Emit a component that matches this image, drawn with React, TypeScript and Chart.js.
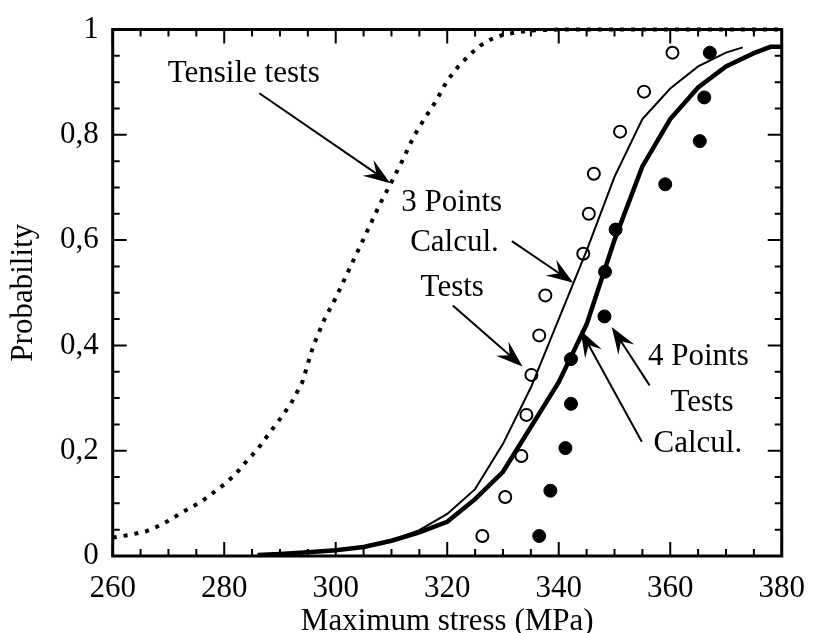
import React, { useEffect, useRef } from 'react';
import { Chart, registerables } from 'chart.js';

Chart.register(...registerables);

// ---- axis definitions ----
const X_MIN = 260;
const X_MAX = 380;
const X_MAJOR = 20;
const X_MINOR = 5;
const xTickValues = [260, 280, 300, 320, 340, 360, 380];
const yTickValues = [0, 0.2, 0.4, 0.6, 0.8, 1];
const yTickLabels = ['0', '0,2', '0,4', '0,6', '0,8', '1'];
const xTitle = 'Maximum stress (MPa)';
const yTitle = 'Probability';

// ---- Tensile tests (dotted curve) ----
const tensileX = [260, 263, 266, 268, 270, 272, 274, 276, 278, 280, 282, 284, 286, 288, 290, 292, 294, 296, 298, 300, 302, 304, 306, 308, 310, 312, 314, 316, 318, 320, 322, 324, 326, 328, 330, 332, 335, 340, 350, 360, 370, 380];
const tensileY = [0.035, 0.04, 0.047, 0.056, 0.067, 0.08, 0.092, 0.104, 0.12, 0.136, 0.155, 0.18, 0.203, 0.232, 0.26, 0.29, 0.33, 0.4, 0.45, 0.49, 0.535, 0.58, 0.625, 0.67, 0.71, 0.752, 0.797, 0.832, 0.864, 0.903, 0.93, 0.952, 0.97, 0.982, 0.99, 0.994, 0.998, 1, 1, 1, 1, 1];

// ---- 3 Points Calcul. (thin line) ----
const calc3X = [286, 290, 295, 300, 305, 310, 315, 320, 325, 330, 335, 340, 345, 350, 355, 360, 365, 370, 373];
const calc3Y = [0.002, 0.004, 0.007, 0.011, 0.018, 0.03, 0.049, 0.08, 0.127, 0.213, 0.32, 0.45, 0.58, 0.72, 0.83, 0.888, 0.93, 0.956, 0.966];

// ---- 4 Points Calcul. (thick line) ----
const calc4X = [286, 290, 295, 300, 305, 310, 315, 320, 325, 330, 335, 340, 345, 350, 355, 360, 365, 370, 375, 378, 380];
const calc4Y = [0.002, 0.004, 0.007, 0.011, 0.017, 0.029, 0.045, 0.065, 0.108, 0.16, 0.245, 0.33, 0.44, 0.6, 0.74, 0.83, 0.89, 0.93, 0.955, 0.967, 0.967];

// ---- 3 Points Tests (open circles) ----
const tests3X = [326.3, 330.4, 333.3, 334.2, 335.1, 336.5, 337.6, 344.4, 345.4, 346.3, 351.0, 355.3, 360.4];
const tests3Y = [0.038, 0.112, 0.19, 0.268, 0.344, 0.419, 0.495, 0.574, 0.65, 0.726, 0.806, 0.882, 0.956];

// ---- 4 Points Tests (filled circles) ----
const tests4X = [336.5, 338.5, 341.2, 342.2, 342.2, 348.2, 348.3, 350.2, 359.1, 365.3, 366.1, 367.1];
const tests4Y = [0.038, 0.124, 0.205, 0.289, 0.374, 0.455, 0.54, 0.62, 0.706, 0.788, 0.871, 0.956];

// ---- annotations (data coordinates) ----
const labelTexts = ['Tensile tests', '3 Points', 'Calcul.', 'Tests', '4 Points', 'Tests', 'Calcul.'];
const labelX = [283.5, 320.8, 321.3, 320.9, 365.05, 365.7, 364.96];
const labelY = [0.915, 0.67, 0.595, 0.51, 0.3785, 0.2906, 0.2122];

const arrowFromX = [286.3, 331.6, 321.0, 356.3, 354.9];
const arrowFromY = [0.879, 0.598, 0.476, 0.324, 0.217];
const arrowToX = [309.8, 342.6, 333.5, 349.5, 343.9];
const arrowToY = [0.708, 0.519, 0.36, 0.435, 0.429];

const FONT_FAMILY = '"Liberation Serif", "Times New Roman", serif';
const FONT_SIZE = 31;

const pts = (xs: number[], ys: number[]) => xs.map((x, i) => ({ x, y: ys[i] }));

const framePlugin = {
  id: 'frameTicks',
  afterDatasetsDraw(chart: any) {
    const { ctx, chartArea: a } = chart;
    const xs = chart.scales.x;
    const ys = chart.scales.y;
    ctx.save();
    ctx.strokeStyle = '#000';
    ctx.lineWidth = 2;
    ctx.beginPath();
    const nx = Math.round((X_MAX - X_MIN) / X_MINOR);
    for (let i = 0; i <= nx; i++) {
      const v = X_MIN + i * X_MINOR;
      const px = xs.getPixelForValue(v);
      const len = (v - X_MIN) % X_MAJOR === 0 ? 14 : 7;
      ctx.moveTo(px, a.bottom);
      ctx.lineTo(px, a.bottom - len);
      ctx.moveTo(px, a.top);
      ctx.lineTo(px, a.top + len);
    }
    for (let i = 0; i <= 20; i++) {
      const v = i * 0.05;
      const py = ys.getPixelForValue(v);
      const len = i % 4 === 0 ? 14 : 7;
      ctx.moveTo(a.left, py);
      ctx.lineTo(a.left + len, py);
      ctx.moveTo(a.right, py);
      ctx.lineTo(a.right - len, py);
    }
    ctx.stroke();
    ctx.lineWidth = 3;
    ctx.strokeRect(a.left, a.top, a.right - a.left, a.bottom - a.top);
    ctx.restore();
  },
};

const annotationPlugin = {
  id: 'annotations',
  afterDraw(chart: any) {
    const { ctx } = chart;
    const xs = chart.scales.x;
    const ys = chart.scales.y;
    ctx.save();
    ctx.fillStyle = '#000';
    ctx.strokeStyle = '#000';
    ctx.font = `${FONT_SIZE}px ${FONT_FAMILY}`;
    ctx.textAlign = 'center';
    ctx.textBaseline = 'middle';
    labelTexts.forEach((t, i) => {
      ctx.fillText(t, xs.getPixelForValue(labelX[i]), ys.getPixelForValue(labelY[i]));
    });
    arrowFromX.forEach((_, i) => {
      const x0 = xs.getPixelForValue(arrowFromX[i]);
      const y0 = ys.getPixelForValue(arrowFromY[i]);
      const x1 = xs.getPixelForValue(arrowToX[i]);
      const y1 = ys.getPixelForValue(arrowToY[i]);
      const ang = Math.atan2(y1 - y0, x1 - x0);
      const headLen = 27;
      const notch = 17;
      const half = 9.5;
      const ux = Math.cos(ang);
      const uy = Math.sin(ang);
      const bx = x1 - ux * notch;
      const by = y1 - uy * notch;
      ctx.lineWidth = 2;
      ctx.beginPath();
      ctx.moveTo(x0, y0);
      ctx.lineTo(bx, by);
      ctx.stroke();
      const backX = x1 - ux * headLen;
      const backY = y1 - uy * headLen;
      ctx.beginPath();
      ctx.moveTo(x1, y1);
      ctx.lineTo(backX - uy * half, backY + ux * half);
      ctx.lineTo(bx, by);
      ctx.lineTo(backX + uy * half, backY - ux * half);
      ctx.closePath();
      ctx.fill();
    });
    ctx.restore();
  },
};

export default function App() {
  const ref = useRef<HTMLCanvasElement | null>(null);

  useEffect(() => {
    if (!ref.current) return;
    const font = { family: FONT_FAMILY, size: FONT_SIZE, lineHeight: 1 };
    const chart = new Chart(ref.current, {
      type: 'scatter',
      data: {
        datasets: [
          {
            type: 'line',
            label: 'Tensile tests',
            data: pts(tensileX, tensileY),
            borderColor: '#000',
            borderWidth: 4,
            borderDash: [4, 7],
            borderCapStyle: 'butt',
            pointRadius: 0,
            fill: false,
            tension: 0,
            clip: false,
          } as any,
          {
            type: 'line',
            label: '3 Points Calcul.',
            data: pts(calc3X, calc3Y),
            borderColor: '#000',
            borderWidth: 2,
            pointRadius: 0,
            fill: false,
            tension: 0,
            clip: false,
          } as any,
          {
            type: 'line',
            label: '4 Points Calcul.',
            data: pts(calc4X, calc4Y),
            borderColor: '#000',
            borderWidth: 4.5,
            pointRadius: 0,
            fill: false,
            tension: 0,
            clip: false,
          } as any,
          {
            label: '3 Points Tests',
            data: pts(tests3X, tests3Y),
            pointStyle: 'circle',
            pointRadius: 6,
            pointBorderWidth: 2,
            pointBackgroundColor: '#fff',
            pointBorderColor: '#000',
            showLine: false,
            clip: false,
          } as any,
          {
            label: '4 Points Tests',
            data: pts(tests4X, tests4Y),
            pointStyle: 'circle',
            pointRadius: 6.5,
            pointBorderWidth: 1,
            pointBackgroundColor: '#000',
            pointBorderColor: '#000',
            showLine: false,
            clip: false,
          } as any,
        ],
      },
      options: {
        animation: false,
        responsive: false,
        devicePixelRatio: 1,
        layout: { padding: { left: 0, top: 25, right: 29.3, bottom: 0 } },
        plugins: {
          legend: { display: false },
          tooltip: { enabled: false },
        },
        scales: {
          x: {
            type: 'linear',
            min: X_MIN,
            max: X_MAX,
            afterBuildTicks: (s: any) => {
              s.ticks = xTickValues.map((v) => ({ value: v }));
            },
            afterFit: (s: any) => {
              s.height = 77;
            },
            grid: { display: false, drawTicks: false },
            border: { display: false },
            ticks: {
              color: '#000',
              font,
              padding: 17,
              maxRotation: 0,
              autoSkip: false,
              callback: (v: any) => String(v),
            },
            title: {
              display: true,
              text: xTitle,
              color: '#000',
              font,
              padding: { top: 0, bottom: -4 },
            },
          },
          y: {
            type: 'linear',
            min: 0,
            max: 1,
            afterBuildTicks: (s: any) => {
              s.ticks = yTickValues.map((v) => ({ value: v }));
            },
            afterFit: (s: any) => {
              s.width = 112.7;
            },
            grid: { display: false, drawTicks: false },
            border: { display: false },
            ticks: {
              color: '#000',
              font,
              padding: 14,
              autoSkip: false,
              callback: (_v: any, i: number) => yTickLabels[i],
            },
            title: {
              display: true,
              text: yTitle,
              color: '#000',
              font,
              padding: { top: 8, bottom: 0 },
            },
          },
        },
      },
      plugins: [framePlugin, annotationPlugin],
    } as any);
    return () => chart.destroy();
  }, []);

  return (
    <div style={{ position: 'fixed', left: 0, top: 0, width: 822, height: 633, background: '#fff' }}>
      <canvas ref={ref} width={822} height={633} style={{ display: 'block' }} />
    </div>
  );
}
